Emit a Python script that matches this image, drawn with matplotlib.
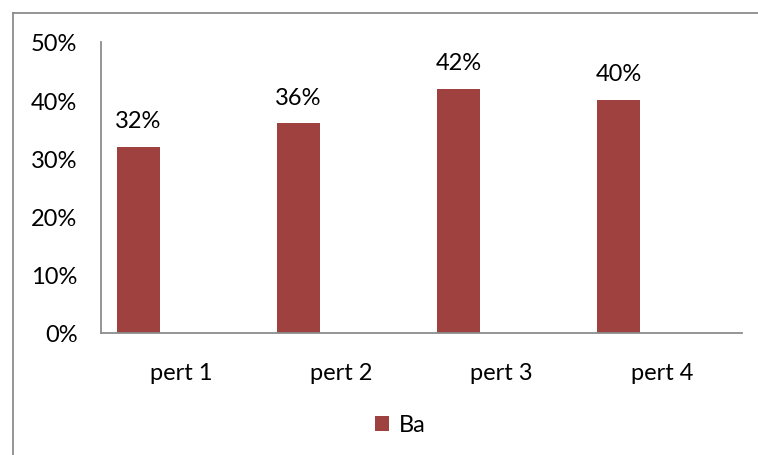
import matplotlib.pyplot as plt
from matplotlib.lines import Line2D
import numpy as np

plt.rcParams['font.family'] = ['Lato', 'DejaVu Sans']

categories = ['pert 1', 'pert 2', 'pert 3', 'pert 4']
values = [32, 36, 42, 40]
series_name = 'Ba'
bar_color = '#9F413E'
fs = 17

fig = plt.figure(figsize=(7.58, 4.56), dpi=100)
ax = fig.add_axes([101 / 758, 1 - 334 / 456, 641 / 758, 291 / 456])

# outer chart border (only left/top visible in the crop)
bx, by = 12.5 / 758, 1 - 13.5 / 456
for xs, ys in [([bx, bx], [0, by]), ([bx, 1], [by, by])]:
    fig.add_artist(Line2D(xs, ys, transform=fig.transFigure,
                          color='#8c8c8c', linewidth=1.3))

x = np.arange(len(categories))
w = 0.268
bars = ax.bar(x - w, values, width=w, color=bar_color, label=series_name)

for xi, v in zip(x, values):
    ax.annotate(f'{v}%', (xi - w, v), xytext=(0, 19), textcoords='offset points',
                ha='center', va='center', fontsize=fs)

ax.set_xlim(-0.5, len(categories) - 0.5)
ax.set_ylim(0, 50)
ax.set_yticks(range(0, 51, 10))
ax.set_yticklabels([f'{t}%' for t in range(0, 51, 10)], fontsize=fs)
ax.set_xticks(x)
ax.set_xticklabels(categories, fontsize=fs)
ax.tick_params(length=0)
ax.tick_params(axis='y', pad=17)
ax.tick_params(axis='x', pad=21)

for s in ['top', 'right']:
    ax.spines[s].set_visible(False)
for s in ['left', 'bottom']:
    ax.spines[s].set_color('#8c8c8c')
    ax.spines[s].set_linewidth(1.3)

ax.legend(loc='center', bbox_to_anchor=(400 / 758, 1 - 426 / 456),
          bbox_transform=fig.transFigure, frameon=False, fontsize=fs,
          handlelength=0.6, handleheight=0.6, handletextpad=0.4)

fig.savefig('out.png', dpi=100)
